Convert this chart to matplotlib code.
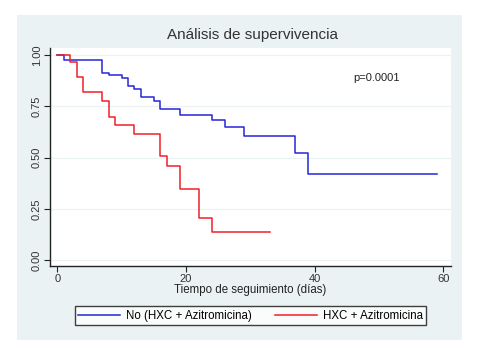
import matplotlib
matplotlib.use('Agg')
import matplotlib.pyplot as plt
from matplotlib.patches import Rectangle

plt.rcParams['font.family'] = ['Liberation Sans', 'DejaVu Sans']

# Kaplan-Meier estimates
no_times = [0, 1, 7, 8, 10, 11, 12, 13, 15, 16, 19, 24, 26, 29, 37, 39, 59]
no_surv = [1.0, 0.976, 0.914, 0.902, 0.886, 0.850, 0.833, 0.794, 0.776,
           0.735, 0.707, 0.683, 0.647, 0.606, 0.520, 0.418, 0.418]
hxc_times = [0, 2, 3, 4, 7, 8, 9, 12, 16, 17, 19, 22, 24, 33]
hxc_surv = [1.0, 0.967, 0.891, 0.818, 0.776, 0.699, 0.659, 0.613, 0.509,
            0.459, 0.346, 0.203, 0.135, 0.135]

x_ticks = [0, 20, 40, 60]
y_ticks = [0.0, 0.25, 0.5, 0.75, 1.0]
y_labels = ['0.00', '0.25', '0.50', '0.75', '1.00']

W, H = 482, 348
fig = plt.figure(figsize=(W / 100, H / 100), dpi=100)
fig.patch.set_facecolor('white')

bg = '#eaf2f3'
fig.add_artist(Rectangle((17 / W, 1 - 340 / H), (462 - 17) / W, (340 - 15) / H,
                         transform=fig.transFigure, facecolor=bg,
                         edgecolor='none', zorder=0))

ax = fig.add_axes([50 / W, 1 - 266 / H, (451 - 50) / W, (266 - 48) / H])
ax.set_facecolor('white')

blue = '#2626d9'
red = '#f0202a'
l1, = ax.step(no_times, no_surv, where='post', color=blue, lw=1.1,
              label='No (HXC + Azitromicina)')
l2, = ax.step(hxc_times, hxc_surv, where='post', color=red, lw=1.1,
              label='HXC + Azitromicina')

ax.set_xlim(-1.13, 61.2)
ax.set_ylim(-0.029, 1.034)
ax.set_xticks(x_ticks)
ax.set_yticks(y_ticks)
ax.set_yticklabels(y_labels, rotation=90, va='center')
ax.tick_params(axis='both', direction='out', length=4, width=0.8,
               color='#222222', labelsize=8, pad=2, labelcolor='#333333')
for yv in y_ticks:
    ax.axhline(yv, color=bg, lw=0.9, zorder=0)

for side in ['top', 'right']:
    ax.spines[side].set_visible(False)
for side in ['left', 'bottom']:
    ax.spines[side].set_color('#222222')
    ax.spines[side].set_linewidth(1.0)

ax.set_xlabel('Tiempo de seguimiento (días)', fontsize=8.3, labelpad=0,
              color='#222222')
ax.text(46, 0.89, 'p=0.0001', fontsize=8, va='center', ha='left',
        color='#222222')

fig.text(252 / W, 1 - 35 / H, 'Análisis de supervivencia', fontsize=11,
         ha='center', va='center', color='#333333')

leg = fig.legend(handles=[l1, l2], loc='lower left', ncol=2, mode='expand',
                 bbox_to_anchor=(75 / W, 1 - 325 / H, (426 - 75) / W, (325 - 303) / H),
                 fontsize=8.3, frameon=True, fancybox=False, borderaxespad=0,
                 handlelength=3.6, borderpad=0.3, handletextpad=0.5)
leg.get_frame().set_edgecolor('#111111')
leg.get_frame().set_linewidth(1.0)
leg.get_frame().set_facecolor('white')

fig.savefig('out.png', dpi=100)
